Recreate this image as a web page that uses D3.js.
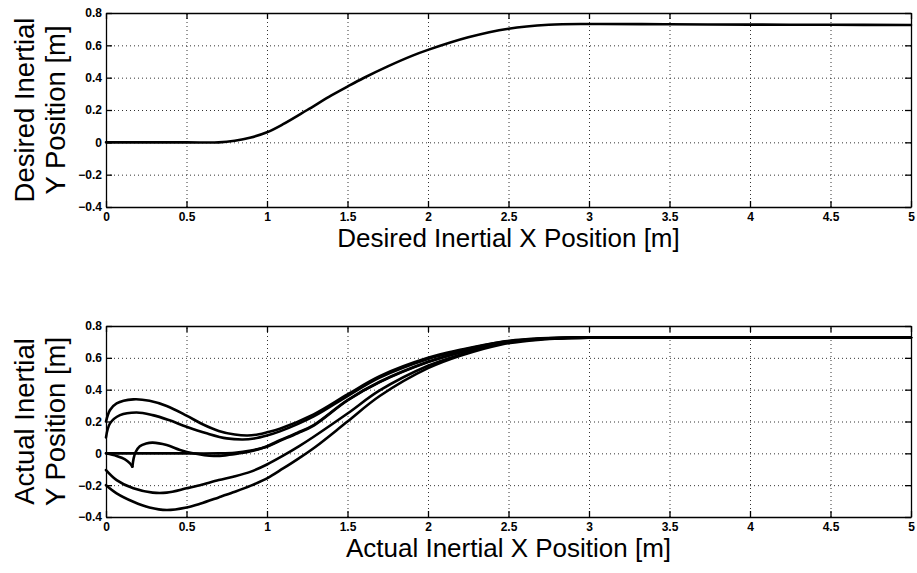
<!DOCTYPE html>
<html>
<head>
<meta charset="utf-8">
<script src="https://cdn.jsdelivr.net/npm/d3@7"></script>
<style>
  body { margin: 0; background: #fff; }
  text { font-family: "Liberation Sans", Arial, Helvetica, sans-serif; }
</style>
</head>
<body>
<div id="viz"></div>
<script>
// Tick values shared by both panels
var xTicks = [0, 0.5, 1, 1.5, 2, 2.5, 3, 3.5, 4, 4.5, 5];
var yTicks = [-0.4, -0.2, 0, 0.2, 0.4, 0.6, 0.8];

// Desired trajectory (top panel)
var desiredX = [0, 0.5, 0.7, 0.8, 0.9, 1.0, 1.1, 1.25, 1.4, 1.5, 1.6, 1.75, 1.9, 2.0, 2.25, 2.5, 2.75, 3.0, 3.5, 4.0, 4.5, 5.0];
var desiredY = [0, 0, 0, 0.01, 0.03, 0.062, 0.112, 0.2, 0.29, 0.345, 0.398, 0.47, 0.535, 0.572, 0.65, 0.703, 0.727, 0.732, 0.73, 0.728, 0.727, 0.726];

// Actual trajectories (bottom panel), one pair of arrays per run
var run1X = [0, 0.025, 0.066, 0.17, 0.27, 0.377, 0.5, 0.6, 0.7, 0.8, 0.88, 0.95, 1.0, 1.08, 1.29, 1.5, 1.7, 2.0, 2.2, 2.45, 2.7, 3.0, 4.0, 5.0];
var run1Y = [0.2, 0.272, 0.314, 0.339, 0.33, 0.297, 0.237, 0.183, 0.141, 0.118, 0.112, 0.12, 0.132, 0.155, 0.245, 0.37, 0.485, 0.6, 0.65, 0.7, 0.722, 0.729, 0.728, 0.727];

var run2X = [0, 0.025, 0.087, 0.19, 0.29, 0.39, 0.5, 0.625, 0.75, 0.85, 0.92, 1.0, 1.08, 1.29, 1.5, 1.7, 2.0, 2.2, 2.45, 2.7, 3.0, 4.0, 5.0];
var run2Y = [0.1, 0.188, 0.24, 0.257, 0.24, 0.209, 0.167, 0.126, 0.094, 0.087, 0.093, 0.112, 0.138, 0.232, 0.36, 0.476, 0.593, 0.645, 0.698, 0.72, 0.728, 0.727, 0.726];

var run0X = [0, 0.4, 0.7, 0.8, 0.9, 1.0, 1.08, 1.19, 1.29, 1.5, 1.7, 2.0, 2.2, 2.45, 2.7, 3.0, 4.0, 5.0];
var run0Y = [0, 0, 0, 0.004, 0.018, 0.042, 0.078, 0.126, 0.174, 0.332, 0.447, 0.573, 0.634, 0.694, 0.72, 0.728, 0.728, 0.727];

// run 3 backs off to a cusp first, then comes forward
var run3DownX = [0, 0.066, 0.118, 0.149, 0.164];
var run3DownY = [0, -0.017, -0.038, -0.063, -0.084];
var run3X = [0.164, 0.172, 0.185, 0.21, 0.25, 0.29, 0.377, 0.46, 0.54, 0.67, 0.75, 0.83, 0.92, 1.0, 1.08, 1.19, 1.29, 1.5, 1.7, 2.0, 2.2, 2.45, 2.7, 3.0, 4.0, 5.0];
var run3Y = [-0.084, -0.03, 0.01, 0.045, 0.062, 0.067, 0.052, 0.021, 0.0, -0.017, -0.012, 0.0, 0.018, 0.045, 0.082, 0.13, 0.178, 0.335, 0.45, 0.575, 0.635, 0.695, 0.72, 0.728, 0.728, 0.727];

var run4X = [0, 0.066, 0.17, 0.29, 0.377, 0.5, 0.584, 0.7, 0.79, 0.9, 1.0, 1.1, 1.2, 1.29, 1.5, 1.7, 2.0, 2.2, 2.45, 2.7, 3.0, 4.0, 5.0];
var run4Y = [-0.105, -0.168, -0.22, -0.247, -0.247, -0.22, -0.2, -0.168, -0.147, -0.115, -0.07, -0.015, 0.045, 0.104, 0.25, 0.395, 0.55, 0.62, 0.69, 0.717, 0.727, 0.727, 0.726];

var run5X = [0, 0.066, 0.17, 0.27, 0.377, 0.5, 0.584, 0.7, 0.79, 0.9, 1.0, 1.1, 1.2, 1.3, 1.5, 1.7, 2.0, 2.2, 2.45, 2.7, 3.0, 4.0, 5.0];
var run5Y = [-0.2, -0.251, -0.304, -0.34, -0.356, -0.34, -0.317, -0.277, -0.245, -0.203, -0.157, -0.095, -0.03, 0.04, 0.2, 0.36, 0.535, 0.613, 0.683, 0.714, 0.726, 0.727, 0.726];

function pairs(xs, ys) { return xs.map(function(d, i) { return [d, ys[i]]; }); }

var svg = d3.select("#viz").append("svg")
    .attr("width", 917)
    .attr("height", 573);

// left/right edges of both panels
var left = 106, right = 911;

function panel(top, bottom, series, yLabel, xLabel) {
    var w = right - left, h = bottom - top;
    var g = svg.append("g").attr("transform", "translate(" + left + "," + top + ")");

    var x = d3.scaleLinear().domain([0, 5]).range([0, w]);
    var y = d3.scaleLinear().domain([-0.4, 0.8]).range([h, 0]);
    var fmt = d3.format("~g");

    // dotted grid
    var gx = g.append("g")
        .attr("transform", "translate(0," + h + ")")
        .call(d3.axisBottom(x).tickValues(xTicks).tickSize(-h));
    var gy = g.append("g")
        .call(d3.axisLeft(y).tickValues(yTicks).tickSize(-w));
    [gx, gy].forEach(function(a) {
        a.select(".domain").remove();
        a.selectAll("text").remove();
        a.selectAll("line")
            .attr("stroke", "#333")
            .attr("stroke-width", 1)
            .attr("stroke-dasharray", "1,3");
    });

    // the trajectories
    var line = d3.line()
        .x(function(d) { return x(d[0]); })
        .y(function(d) { return y(d[1]); })
        .curve(d3.curveCatmullRom.alpha(0.5));
    series.forEach(function(s) {
        g.append("path")
            .datum(s)
            .attr("d", line)
            .attr("fill", "none")
            .attr("stroke", "#000")
            .attr("stroke-width", 2.6)
            .attr("stroke-linejoin", "round")
            .attr("stroke-linecap", "round");
    });

    // axes, ticks pointing inwards on all four sides
    var xb = g.append("g").attr("transform", "translate(0," + h + ")")
        .call(d3.axisBottom(x).tickValues(xTicks).tickSizeInner(-6).tickSizeOuter(0).tickPadding(5).tickFormat(fmt));
    var yl = g.append("g")
        .call(d3.axisLeft(y).tickValues(yTicks).tickSizeInner(-6).tickSizeOuter(0).tickPadding(4).tickFormat(fmt));
    var xt = g.append("g")
        .call(d3.axisTop(x).tickValues(xTicks).tickSizeInner(-6).tickSizeOuter(0));
    var yr = g.append("g").attr("transform", "translate(" + w + ",0)")
        .call(d3.axisRight(y).tickValues(yTicks).tickSizeInner(-6).tickSizeOuter(0));
    xt.selectAll("text").remove();
    yr.selectAll("text").remove();

    [xb, yl, xt, yr].forEach(function(a) {
        a.select(".domain").attr("stroke", "#000").attr("stroke-width", 1.3);
        a.selectAll(".tick line").attr("stroke", "#000").attr("stroke-width", 1.3);
    });
    [xb, yl].forEach(function(a) {
        a.selectAll("text")
            .attr("font-family", "'Liberation Sans', Arial, sans-serif")
            .attr("font-size", 12)
            .attr("font-weight", "bold")
            .attr("fill", "#000");
    });

    // axis titles
    svg.append("text")
        .attr("x", left + w / 2)
        .attr("y", bottom + 40)
        .attr("text-anchor", "middle")
        .attr("font-size", 26)
        .text(xLabel);

    var cy = top + h / 2;
    svg.append("text")
        .attr("transform", "translate(34," + cy + ") rotate(-90)")
        .attr("text-anchor", "middle")
        .attr("font-size", 27.5)
        .text(yLabel[0]);
    svg.append("text")
        .attr("transform", "translate(65," + cy + ") rotate(-90)")
        .attr("text-anchor", "middle")
        .attr("font-size", 27.5)
        .text(yLabel[1]);
}

panel(13, 207,
    [pairs(desiredX, desiredY)],
    ["Desired Inertial", "Y Position [m]"],
    "Desired Inertial X Position [m]");

panel(326, 517,
    [pairs(run1X, run1Y), pairs(run2X, run2Y), pairs(run0X, run0Y),
     pairs(run3DownX, run3DownY), pairs(run3X, run3Y),
     pairs(run4X, run4Y), pairs(run5X, run5Y)],
    ["Actual Inertial", "Y Position [m]"],
    "Actual Inertial X Position [m]");
</script>
</body>
</html>
